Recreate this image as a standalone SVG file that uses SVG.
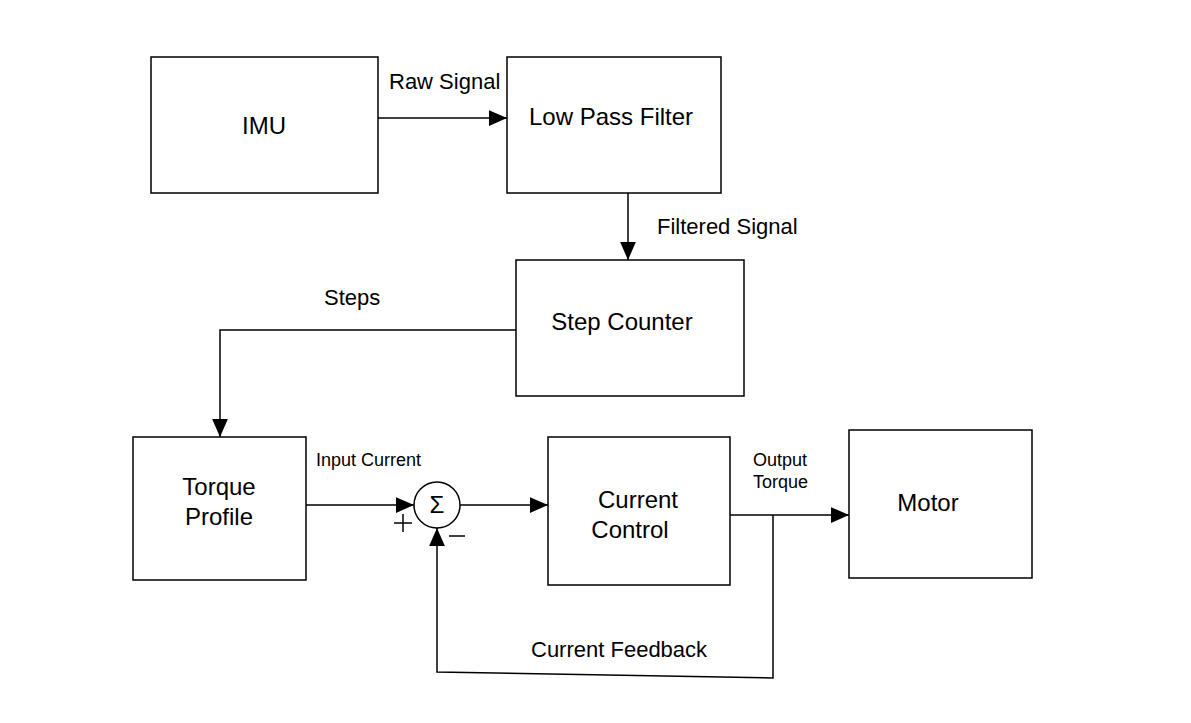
<svg xmlns="http://www.w3.org/2000/svg" width="1191" height="723" viewBox="0 0 1191 723">
<defs>
<marker id="ah2" viewBox="0 0 16 14" refX="16" refY="7" markerWidth="18" markerHeight="16" markerUnits="userSpaceOnUse" orient="auto">
<path d="M0,0 L16,7 L0,14 z" fill="#000"/>
</marker>
</defs>
<style>
.box{fill:#fff;stroke:#000;stroke-width:1.5}
.ln{fill:none;stroke:#000;stroke-width:1.5}
.t{font-family:"Liberation Sans",Arial,sans-serif;font-size:24px;fill:#000}
.l{font-family:"Liberation Sans",Arial,sans-serif;font-size:22px;fill:#000}
.s{font-family:"Liberation Sans",Arial,sans-serif;font-size:18px;fill:#000}
</style>
<rect width="1191" height="723" fill="#fff"/>
<g id="connectors">
<line class="ln" x1="378" y1="118" x2="507" y2="118" marker-end="url(#ah2)"/>
<line class="ln" x1="628" y1="193" x2="628" y2="260" marker-end="url(#ah2)"/>
<polyline class="ln" points="516,330 220,330 220,437" marker-end="url(#ah2)"/>
<line class="ln" x1="306" y1="505" x2="414" y2="505" marker-end="url(#ah2)"/>
<line class="ln" x1="460" y1="505" x2="548" y2="505" marker-end="url(#ah2)"/>
<line class="ln" x1="730" y1="515" x2="849" y2="515" marker-end="url(#ah2)"/>
<polyline class="ln" points="773,515 773,678 437,672 437,528" marker-end="url(#ah2)"/>
<text class="l" x="389" y="89">Raw Signal</text>
<text class="l" x="657" y="234">Filtered Signal</text>
<text class="l" x="324" y="305">Steps</text>
<text class="s" x="316" y="466">Input Current</text>
<text class="s" x="753" y="466">Output</text>
<text class="s" x="753" y="488">Torque</text>
<text class="l" x="531" y="657">Current Feedback</text>
</g>
<g id="imu">
<rect class="box" x="151" y="57" width="227" height="136"/>
<text class="t" x="264" y="134" text-anchor="middle">IMU</text>
</g>
<g id="lpf">
<rect class="box" x="507" y="57" width="214" height="136"/>
<text class="t" x="529" y="125">Low Pass Filter</text>
</g>
<g id="step-counter">
<rect class="box" x="516" y="260" width="228" height="136"/>
<text class="t" x="622" y="330" text-anchor="middle">Step Counter</text>
</g>
<g id="torque-profile">
<rect class="box" x="133" y="437" width="173" height="143"/>
<text class="t" x="219" y="495" text-anchor="middle">Torque</text>
<text class="t" x="219" y="525" text-anchor="middle">Profile</text>
</g>
<g id="sum">
<circle class="box" cx="437" cy="505" r="23"/>
<text class="t" x="437" y="513" text-anchor="middle" font-size="22">Σ</text>
<line class="ln" x1="394" y1="523" x2="412" y2="523"/>
<line class="ln" x1="403" y1="514" x2="403" y2="532"/>
<line class="ln" x1="449" y1="536" x2="465" y2="536"/>
</g>
<g id="current-control">
<rect class="box" x="548" y="437" width="182" height="148"/>
<text class="t" x="638" y="508" text-anchor="middle">Current</text>
<text class="t" x="630" y="538" text-anchor="middle">Control</text>
</g>
<g id="motor">
<rect class="box" x="849" y="430" width="183" height="148"/>
<text class="t" x="928" y="511" text-anchor="middle">Motor</text>
</g>
</svg>
